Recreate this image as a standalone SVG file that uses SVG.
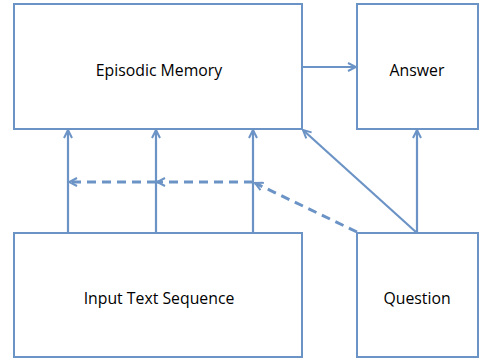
<svg xmlns="http://www.w3.org/2000/svg" width="480" height="362" viewBox="0 0 480 362">
<defs>
<marker id="ah" viewBox="0 0 10 10" refX="9" refY="5" markerWidth="10" markerHeight="10" markerUnits="userSpaceOnUse" orient="auto">
<polyline points="1,1 9,5 1,9" fill="none" stroke="#6b93c6" stroke-width="2"/>
</marker>
</defs>
<style>
.box{fill:#fff;stroke:#6b93c6;stroke-width:2}
.lbl{font-family:"Open Sans","Liberation Sans",sans-serif;font-size:15.8px;fill:#000;text-anchor:middle}
.c{fill:none;stroke:#6b93c6;stroke-width:2.2;marker-end:url(#ah)}
.d{stroke-dasharray:9,6;stroke-width:3}
</style>
<rect width="480" height="362" fill="#fff"/>
<g id="episodic"><rect class="box" x="14" y="4" width="288" height="125"/><text class="lbl" x="159" y="76">Episodic Memory</text></g>
<g id="answer"><rect class="box" x="357" y="4" width="121" height="125"/><text class="lbl" x="417" y="76">Answer</text></g>
<g id="input"><rect class="box" x="14" y="233" width="288" height="124"/><text class="lbl" x="159" y="304">Input Text Sequence</text></g>
<g id="question"><rect class="box" x="357" y="233" width="121" height="124"/><text class="lbl" x="417" y="304">Question</text></g>
<g id="connectors">
<line class="c" x1="302" y1="67" x2="356" y2="67"/>
<line class="c" x1="68" y1="233" x2="68" y2="130"/>
<line class="c" x1="156" y1="233" x2="156" y2="130"/>
<line class="c" x1="253" y1="233" x2="253" y2="130"/>
<line class="c" x1="417" y1="233" x2="417" y2="130"/>
<line class="c" x1="417" y1="233" x2="303" y2="130"/>
<line class="c d" x1="357" y1="232" x2="255" y2="183"/>
<line class="c d" x1="253" y1="182" x2="157" y2="182"/>
<line class="c d" x1="156" y1="182" x2="69" y2="182"/>
</g>
</svg>
